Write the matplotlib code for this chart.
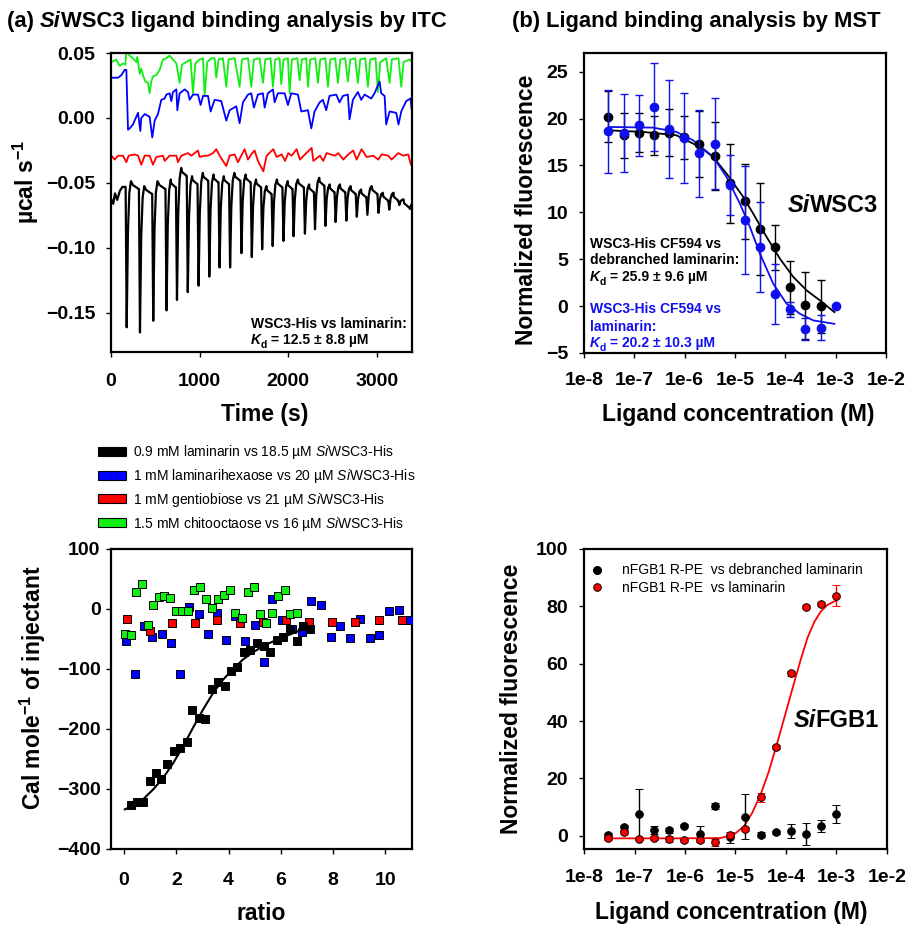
import matplotlib
matplotlib.use("Agg")
import matplotlib.pyplot as plt
from matplotlib.patches import Patch
from matplotlib.lines import Line2D
from matplotlib.ticker import NullLocator

plt.rcParams['font.family'] = ['Liberation Sans', 'DejaVu Sans']
plt.rcParams['mathtext.fontset'] = 'custom'
plt.rcParams['mathtext.rm'] = 'Liberation Sans'
plt.rcParams['mathtext.it'] = 'Liberation Sans:italic'
plt.rcParams['mathtext.bf'] = 'Liberation Sans:bold'

# ---------------- (a) ITC raw traces ----------------
itc_time_ticks = [0, 1000, 2000, 3000]
itc_time_labels = ['0', '1000', '2000', '3000']
itc_power_ticks = [0.05, 0.0, -0.05, -0.10, -0.15]
itc_power_labels = ['0.05', '0.00', '\u22120.05', '\u22120.10', '\u22120.15']

# black trace: laminarin (injection times, dip minima, plateau after each injection)
black_start_t = [0, 25, 45, 70, 100, 130, 150]
black_start_v = [-0.062, -0.066, -0.058, -0.063, -0.056, -0.053, -0.053]
black_inj_t = [165, 315, 465, 615, 733, 855, 977, 1098, 1214, 1333, 1461, 1578, 1695,
               1814, 1936, 2050, 2178, 2292, 2410, 2525, 2646, 2764, 2884, 3009, 3131,
               3244, 3365]
black_dip = [-0.161, -0.165, -0.156, -0.148, -0.140, -0.134, -0.129, -0.122, -0.115,
             -0.115, -0.104, -0.107, -0.101, -0.0985, -0.0945, -0.091, -0.089, -0.0855,
             -0.083, -0.080, -0.079, -0.076, -0.0745, -0.073, -0.0705, -0.067, -0.070]
black_top = [-0.0486, -0.0524, -0.0486, -0.0473, -0.0384, -0.0448, -0.0422, -0.0435,
             -0.0448, -0.0422, -0.0435, -0.0473, -0.0524, -0.0473, -0.0486, -0.0473,
             -0.0511, -0.046, -0.0511, -0.0511, -0.0524, -0.055, -0.0524, -0.0575,
             -0.0575, -0.0626, -0.065]

# blue trace: laminarihexaose (vertices)
blue_t = [5, 79, 117, 154, 173, 192, 211, 248, 286, 305, 331, 342, 380, 436, 466, 493,
          530, 568, 606, 625, 662, 681, 700, 738, 749, 775, 832, 869, 888, 926, 982,
          1012, 1039, 1095, 1125, 1170, 1245, 1302, 1340, 1415, 1452, 1490, 1547, 1584,
          1614, 1659, 1716, 1735, 1772, 1829, 1848, 1885, 1961, 1998, 2036, 2111, 2149,
          2224, 2262, 2299, 2356, 2393, 2431, 2468, 2544, 2581, 2619, 2675, 2694, 2732,
          2788, 2826, 2864, 2939, 2976, 3033, 3052, 3090, 3108, 3146, 3221, 3247, 3278,
          3334, 3383, 3398]
blue_v = [0.031, 0.031, 0.033, 0.037, 0.037, -0.009, -0.008, -0.005, 0.001, 0.004,
          -0.010, 0.000, 0.003, 0.001, -0.015, -0.002, 0.003, 0.014, 0.015, 0.018, 0.019,
          0.013, 0.020, 0.022, 0.006, 0.019, 0.022, 0.020, 0.014, 0.018, 0.018, 0.010,
          0.017, 0.017, 0.005, 0.014, 0.013, -0.002, 0.006, 0.009, -0.004, 0.012, 0.018,
          0.019, 0.008, 0.018, 0.019, 0.008, 0.019, 0.022, 0.012, 0.019, 0.019, 0.010,
          0.019, 0.018, 0.005, 0.006, -0.008, 0.005, 0.012, 0.014, 0.006, 0.017, 0.018,
          0.012, 0.017, 0.018, -0.001, 0.014, 0.020, 0.014, 0.018, 0.015, 0.019, 0.028,
          0.019, 0.017, -0.005, 0.005, 0.004, -0.005, 0.005, 0.013, 0.015, 0.005]

# red trace: gentiobiose
red_t = [4, 41, 79, 135, 173, 199, 267, 305, 342, 380, 436, 474, 512, 587, 606, 662,
         738, 756, 794, 869, 907, 982, 1001, 1057, 1095, 1151, 1189, 1227, 1302, 1340,
         1396, 1434, 1471, 1509, 1547, 1584, 1622, 1659, 1720, 1758, 1833, 1871, 1927,
         1965, 2002, 2040, 2096, 2134, 2190, 2266, 2285, 2360, 2397, 2435, 2529, 2567,
         2623, 2680, 2736, 2774, 2830, 2887, 2962, 3018, 3056, 3131, 3169, 3244, 3300,
         3357, 3387, 3400]
red_v = [-0.029, -0.032, -0.029, -0.029, -0.034, -0.029, -0.028, -0.029, -0.036, -0.029,
         -0.029, -0.036, -0.030, -0.029, -0.033, -0.029, -0.029, -0.034, -0.029, -0.027,
         -0.029, -0.025, -0.030, -0.029, -0.029, -0.027, -0.024, -0.029, -0.037, -0.029,
         -0.028, -0.034, -0.029, -0.024, -0.032, -0.028, -0.025, -0.033, -0.041, -0.029,
         -0.024, -0.030, -0.028, -0.033, -0.027, -0.029, -0.024, -0.032, -0.028, -0.023,
         -0.033, -0.029, -0.033, -0.027, -0.029, -0.027, -0.032, -0.028, -0.025, -0.032,
         -0.024, -0.030, -0.029, -0.032, -0.028, -0.029, -0.032, -0.027, -0.029, -0.028,
         -0.036, -0.036]

# green trace: chitooctaose
green_t = [5, 60, 98, 135, 162, 173, 211, 248, 286, 297, 324, 342, 361, 388, 418, 436,
           455, 474, 512, 549, 587, 625, 662, 700, 738, 775, 801, 850, 899, 926, 952,
           1001, 1039, 1057, 1087, 1133, 1170, 1189, 1215, 1264, 1302, 1328, 1396, 1452,
           1479, 1547, 1584, 1614, 1678, 1716, 1742, 1802, 1829, 1855, 1904, 1923, 1949,
           1998, 2017, 2043, 2104, 2130, 2156, 2205, 2224, 2250, 2307, 2337, 2363, 2420,
           2450, 2476, 2532, 2563, 2589, 2645, 2675, 2702, 2758, 2788, 2815, 2871, 2901,
           2928, 2988, 3014, 3041, 3108, 3146, 3172, 3247, 3278, 3304, 3372, 3398]
green_v = [0.043, 0.045, 0.040, 0.042, 0.041, 0.051, 0.048, 0.046, 0.043, 0.047, 0.034,
           0.038, 0.033, 0.028, 0.027, 0.019, 0.028, 0.032, 0.033, 0.037, 0.045, 0.046,
           0.048, 0.045, 0.042, 0.027, 0.041, 0.043, 0.045, 0.019, 0.042, 0.045, 0.046,
           0.017, 0.043, 0.046, 0.046, 0.031, 0.045, 0.046, 0.024, 0.045, 0.046, 0.024,
           0.045, 0.046, 0.024, 0.045, 0.046, 0.027, 0.045, 0.046, 0.024, 0.045, 0.046,
           0.026, 0.045, 0.046, 0.019, 0.045, 0.046, 0.029, 0.045, 0.046, 0.024, 0.045,
           0.046, 0.027, 0.045, 0.046, 0.024, 0.045, 0.046, 0.027, 0.045, 0.046, 0.028,
           0.045, 0.046, 0.027, 0.045, 0.046, 0.024, 0.045, 0.046, 0.020, 0.043, 0.046,
           0.027, 0.045, 0.046, 0.024, 0.043, 0.045, 0.043]

# ---------------- (a) ITC integrated heats ----------------
ratio_ticks = [0, 2, 4, 6, 8, 10]
heat_ticks = [100, 0, -100, -200, -300, -400]
heat_labels = ['100', '0', '\u2212100', '\u2212200', '\u2212300', '\u2212400']

lam_ratio = [0.28, 0.50, 0.73, 0.98, 1.21, 1.43, 1.66, 1.90, 2.16, 2.41, 2.62, 2.87, 3.11,
             3.36, 3.61, 3.85, 4.10, 4.34, 4.58, 4.84, 5.09, 5.35, 5.60, 5.85, 6.10, 6.37,
             6.61, 6.85, 7.11]
lam_heat = [-327, -322, -322, -287, -274, -284, -259, -236, -232, -222, -168, -182, -183,
            -134, -121, -128, -103, -96, -71, -68, -56, -62, -72, -51, -46, -34, -54, -28,
            -33]
lam_fit_ratio = [0.03, 0.34, 0.73, 1.11, 1.49, 1.88, 2.26, 2.64, 3.02, 3.41, 3.79, 4.17,
                 4.56, 4.94, 5.45, 6.09, 6.73, 7.11]
lam_fit_heat = [-334, -328, -317, -301, -282, -257, -229, -198, -168, -140, -118, -100,
                -84, -72, -59, -47, -36, -31]

hex_ratio = [0.06, 0.41, 0.75, 1.08, 1.45, 1.79, 2.13, 2.48, 2.86, 3.20, 3.55, 3.92, 4.26,
             4.63, 5.00, 5.32, 5.35, 5.68, 6.04, 6.45, 6.80, 7.17, 7.53, 7.91, 8.28, 8.65,
             9.02, 9.41, 9.78, 10.16, 10.54, 10.94]
hex_heat = [-54, -109, -29, -47, -42, -57, -109, 4, -9, -42, -6, -52, -11, -54, -27, -22,
            -89, 17, -19, -33, -39, 14, 7, -46, -29, -48, -17, -49, -43, -3, -1, -19]

gen_ratio = [0.13, 1.00, 1.85, 2.73, 3.57, 4.45, 5.31, 6.19, 7.08, 7.96, 8.86, 9.75, 10.64]
gen_heat = [-16, -36, -24, -24, -18, -23, -22, -19, -22, -22, -21, -18, -19]

chi_ratio = [0.05, 0.26, 0.47, 0.69, 0.91, 1.12, 1.34, 1.54, 1.77, 2.00, 2.21, 2.45, 2.67,
             2.90, 3.13, 3.36, 3.59, 3.82, 4.05, 4.26, 4.51, 4.74, 4.96, 5.19, 5.45, 5.68,
             5.91, 6.15, 6.37, 6.64]
chi_heat = [-41, -44, 28, 42, -26, 6, 20, 22, 18, -4, -4, -3, 31, 36, 16, 1, 16, 24, 32,
            -6, -15, 28, 36, -9, -23, -7, 21, 31, -8, -7]

itc_legend_labels = [
    '0.9 mM laminarin vs 18.5 \u00b5M $\\mathit{Si}$WSC3-His',
    '1 mM laminarihexaose vs 20 \u00b5M $\\mathit{Si}$WSC3-His',
    '1 mM gentiobiose vs 21 \u00b5M $\\mathit{Si}$WSC3-His',
    '1.5 mM chitooctaose vs 16 \u00b5M $\\mathit{Si}$WSC3-His',
]

# ---------------- (b) MST ----------------
conc_ticks = [1e-8, 1e-7, 1e-6, 1e-5, 1e-4, 1e-3, 1e-2]
conc_labels = ['1e-8', '1e-7', '1e-6', '1e-5', '1e-4', '1e-3', '1e-2']

conc = [3.05e-8, 6.10e-8, 1.22e-7, 2.44e-7, 4.88e-7, 9.77e-7, 1.95e-6, 3.91e-6, 7.81e-6,
        1.56e-5, 3.13e-5, 6.25e-5, 1.25e-4, 2.5e-4, 5.0e-4, 1.0e-3]

wsc3_deb = [20.2, 18.2, 18.5, 18.2, 18.5, 18.0, 17.3, 16.0, 13.1, 11.2, 8.2, 6.3, 2.0,
            0.07, -0.04]
wsc3_deb_err = [2.7, 2.4, 2.1, 2.1, 2.5, 2.3, 3.5, 3.6, 4.2, 4.0, 4.9, 2.4, 2.8, 3.55, 2.85]
wsc3_lam = [18.65, 18.5, 19.3, 21.2, 18.9, 17.9, 16.3, 17.3, 12.95, 9.2, 6.26, 1.3, -0.36,
            -2.42, -2.3, 0.04]
wsc3_lam_err = [4.4, 4.15, 3.25, 4.7, 5.2, 4.8, 4.65, 4.85, 3.2, 5.75, 4.8, 3.2, 0.8, 1.2,
                1.35, 0.0]
wsc3_deb_fit_c = [3.10e-8, 1.49e-7, 6.87e-7, 2.00e-6, 3.68e-6, 6.79e-6, 1.46e-5, 2.30e-5,
                  4.24e-5, 7.82e-5, 1.44e-4, 2.65e-4, 4.88e-4, 9.40e-4]
wsc3_deb_fit = [18.75, 18.58, 18.22, 16.98, 15.91, 14.13, 11.64, 9.86, 7.37, 5.05, 3.10,
                1.67, 0.60, -0.64]
wsc3_lam_fit_c = [3.10e-8, 2.36e-7, 6.87e-7, 1.47e-6, 3.68e-6, 6.79e-6, 1.25e-5, 1.98e-5,
                  3.13e-5, 5.75e-5, 1.06e-4, 1.95e-4, 3.60e-4, 9.40e-4]
wsc3_lam_fit = [19.11, 19.04, 18.58, 17.69, 15.91, 13.77, 10.93, 8.43, 5.59, 2.38, 0.25,
                -0.82, -1.53, -1.89]

fgb1_deb = [0.1, 2.9, 7.5, 2.1, 1.9, 3.5, 0.7, 10.5, -0.5, 6.7, 0.35, 1.2, 1.7, 0.7, 3.5, 7.5]
fgb1_deb_err = [0.8, 1.0, 8.7, 1.4, 0.8, 0.6, 2.8, 1.0, 1.9, 7.8, 0.8, 0.6, 2.5, 3.8, 2.1, 3.2]
fgb1_lam = [-0.8, 1.2, -1.0, -0.8, -1.0, -1.6, -1.4, -2.3, 0.35, 2.4, 13.4, 30.9, 56.6,
            79.9, 80.8, 83.7]
fgb1_lam_err = [0.6, 0.6, 0.5, 0.8, 1.0, 0.5, 0.6, 1.2, 1.0, 0.6, 1.6, 0.6, 0.8, 0.5, 0.6, 3.6]
fgb1_fit_c = [3.10e-8, 6.87e-7, 5.00e-6, 9.20e-6, 1.46e-5, 2.13e-5, 3.13e-5, 4.57e-5,
              6.70e-5, 9.82e-5, 1.44e-4, 1.95e-4, 2.65e-4, 3.60e-4, 4.88e-4, 6.62e-4, 1.02e-3]
fgb1_fit = [-0.9, -0.9, -0.8, 0.35, 3.25, 7.9, 14.3, 22.4, 32.3, 42.7, 53.2, 61.3, 68.9,
            74.4, 78.2, 80.5, 82.2]

BLUE = '#0000ff'
RED = '#ff0000'
GREEN = '#11ee11'
MSTBLUE = '#1010ee'

TICK = 14
LABEL = 16.5
TITLE = 15.8


def injection_trace(start_t, start_v, inj_t, dip, top, t_end):
    ts = list(start_t)
    vs = list(start_v)
    for i, t in enumerate(inj_t):
        nxt = inj_t[i + 1] if i + 1 < len(inj_t) else t_end
        d, p = dip[i], top[i]
        ts += [t, t + 12, t + 26, t + 42, t + 60, t + 0.55 * (nxt - t), nxt - 3]
        vs += [vs[-1], d, p + (d - p) * 0.35, p + (d - p) * 0.08, p, p - 0.003, p - 0.006]
    return ts, vs


def style_axes(ax):
    for s in ax.spines.values():
        s.set_linewidth(1.6)
    ax.tick_params(direction='out', length=3.5, width=1.0, labelsize=TICK,
                   top=False, right=False)


def rich(ax, x, y, parts, transform, color='k'):
    """parts: list of (text, size, weight, style, dy_points)"""
    s0, sz0, w0, st0, dy0 = parts[0]
    t = ax.text(x, y, s0, transform=transform, fontsize=sz0, fontweight=w0,
                fontstyle=st0, color=color, ha='left', va='baseline')
    prev_dy = dy0
    for s, sz, w, st, dy in parts[1:]:
        t = ax.annotate(s, xy=(1, 0), xycoords=t, xytext=(0, dy - prev_dy),
                        textcoords='offset points', fontsize=sz, fontweight=w,
                        fontstyle=st, color=color, ha='left', va='bottom',
                        annotation_clip=False)
        prev_dy = dy
    return t


fig = plt.figure(figsize=(9.07, 9.25), dpi=100)

# ---- top-left: raw ITC ----
ax1 = fig.add_axes([0.1224, 0.6195, 0.3319, 0.3232])
bt, bv = injection_trace(black_start_t, black_start_v, black_inj_t, black_dip, black_top, 3480)
ax1.plot(green_t, green_v, color=GREEN, lw=1.3)
ax1.plot(blue_t, blue_v, color=BLUE, lw=1.3)
ax1.plot(red_t, red_v, color=RED, lw=1.3)
ax1.plot(bt, bv, color='k', lw=1.6)
ax1.set_xlim(0, 3400)
ax1.set_ylim(-0.18, 0.05)
ax1.set_xticks(itc_time_ticks)
ax1.set_xticklabels(itc_time_labels, fontweight='bold')
ax1.set_yticks(itc_power_ticks)
ax1.set_yticklabels(itc_power_labels, fontweight='bold')
style_axes(ax1)
ax1.tick_params(axis='x', pad=12)
ax1.tick_params(axis='y', pad=8)
ax1.set_xlabel('Time (s)', fontsize=LABEL, fontweight='bold')
ax1.xaxis.set_label_coords(0.512, -0.172)
ax1.set_ylabel('\u00b5cal s$^{\\mathbf{\u22121}}$', fontsize=LABEL, fontweight='bold')
ax1.yaxis.set_label_coords(-0.232, 0.569)
rich(ax1, 0.464, 0.080, [('WSC3-His vs laminarin:', 10, 'bold', 'normal', 0)], ax1.transAxes)
rich(ax1, 0.464, 0.027, [('K', 10, 'bold', 'italic', 0), ('d', 7.5, 'bold', 'normal', -2),
                         (' = 12.5 \u00b1 8.8 \u00b5M', 10, 'bold', 'normal', 0)], ax1.transAxes)

# title (a)
rich(ax1, 0.0074, 0.971, [('(a) ', TITLE, 'bold', 'normal', 0), ('Si', TITLE, 'bold', 'italic', 0),
                          ('WSC3 ligand binding analysis by ITC', TITLE, 'bold', 'normal', 0)],
     fig.transFigure)

# ITC legend
handles = [Patch(facecolor=c, edgecolor='k', linewidth=0.8) for c in ['k', BLUE, RED, GREEN]]
fig.legend(handles, itc_legend_labels, loc='upper left', bbox_to_anchor=(0.108, 0.521),
           frameon=False, fontsize=10, handlelength=2.0, handleheight=0.62,
           handletextpad=0.55, labelspacing=0.42, borderpad=0, borderaxespad=0)

# ---- bottom-left: integrated heats ----
ax2 = fig.add_axes([0.1224, 0.0822, 0.3319, 0.3243])
sq = dict(marker='s', ls='none', ms=5.8, mec='k', mew=0.7)
ax2.plot(hex_ratio, hex_heat, color=BLUE, **sq, zorder=3)
ax2.plot(gen_ratio, gen_heat, color=RED, **sq, zorder=3)
ax2.plot(chi_ratio, chi_heat, color=GREEN, **sq, zorder=3)
ax2.plot(lam_fit_ratio, lam_fit_heat, color='k', lw=1.5, zorder=4)
ax2.plot(lam_ratio, lam_heat, color='k', **sq, zorder=5)
ax2.set_xlim(-0.5, 11.03)
ax2.set_ylim(-400, 100)
ax2.set_xticks(ratio_ticks)
ax2.set_xticklabels([str(v) for v in ratio_ticks], fontweight='bold')
ax2.set_yticks(heat_ticks)
ax2.set_yticklabels(heat_labels, fontweight='bold')
style_axes(ax2)
ax2.tick_params(axis='x', pad=13)
ax2.tick_params(axis='y', pad=4)
ax2.set_xlabel('ratio', fontsize=LABEL, fontweight='bold')
ax2.xaxis.set_label_coords(0.5, -0.178)
ax2.set_ylabel('Cal mole$^{\\mathbf{\u22121}}$ of injectant', fontsize=LABEL, fontweight='bold')
ax2.yaxis.set_label_coords(-0.209, 0.538)

# ---- top-right: MST SiWSC3 ----
ax3 = fig.add_axes([0.6439, 0.6184, 0.333, 0.3243])
ax3.set_xscale('log')
eb = dict(fmt='o', ms=6, capsize=2.8, elinewidth=1.0, capthick=1.0)
ax3.plot(wsc3_deb_fit_c, wsc3_deb_fit, color='k', lw=1.3, zorder=2)
ax3.plot(wsc3_lam_fit_c, wsc3_lam_fit, color=MSTBLUE, lw=1.3, zorder=2)
ax3.errorbar(conc[:15], wsc3_deb, yerr=wsc3_deb_err, color='k', zorder=3, **eb)
ax3.errorbar(conc[:15], wsc3_lam[:15], yerr=wsc3_lam_err[:15], color=MSTBLUE, zorder=4, **eb)
ax3.plot(conc[15:], wsc3_lam[15:], 'o', ms=6, color=MSTBLUE, zorder=4)
ax3.set_xlim(1e-8, 1e-2)
ax3.set_ylim(-5, 27)
ax3.set_xticks(conc_ticks)
ax3.set_xticklabels(conc_labels, fontweight='bold')
ax3.xaxis.set_minor_locator(NullLocator())
ax3.set_yticks([25, 20, 15, 10, 5, 0, -5])
ax3.set_yticklabels(['25', '20', '15', '10', '5', '0', '\u22125'], fontweight='bold')
style_axes(ax3)
ax3.tick_params(axis='x', pad=10)
ax3.tick_params(axis='y', pad=8)
ax3.set_xlabel('Ligand concentration (M)', fontsize=LABEL, fontweight='bold')
ax3.xaxis.set_label_coords(0.51, -0.168)
ax3.set_ylabel('Normalized fluorescence', fontsize=LABEL, fontweight='bold')
ax3.yaxis.set_label_coords(-0.152, 0.477)
rich(ax3, 0.675, 0.471, [('Si', 17, 'bold', 'italic', 0), ('WSC3', 17, 'bold', 'normal', 0)],
     ax3.transAxes)
for txt, yy, col in [('WSC3-His CF594 vs', 0.350, 'k'), ('debranched laminarin:', 0.297, 'k'),
                     ('WSC3-His CF594 vs', 0.133, MSTBLUE), ('laminarin:', 0.073, MSTBLUE)]:
    rich(ax3, 0.019, yy, [(txt, 10, 'bold', 'normal', 0)], ax3.transAxes, color=col)
rich(ax3, 0.019, 0.240, [('K', 10, 'bold', 'italic', 0), ('d', 7.5, 'bold', 'normal', -2),
                         (' = 25.9 \u00b1 9.6 \u00b5M', 10, 'bold', 'normal', 0)], ax3.transAxes)
rich(ax3, 0.019, 0.020, [('K', 10, 'bold', 'italic', 0), ('d', 7.5, 'bold', 'normal', -2),
                         (' = 20.2 \u00b1 10.3 \u00b5M', 10, 'bold', 'normal', 0)], ax3.transAxes,
     color=MSTBLUE)
rich(ax3, 0.564, 0.971, [('(b) ', TITLE, 'bold', 'normal', 0),
                         ('Ligand binding analysis by MST', TITLE, 'bold', 'normal', 0)],
     fig.transFigure)

# ---- bottom-right: MST SiFGB1 ----
ax4 = fig.add_axes([0.6439, 0.0822, 0.334, 0.3243])
ax4.set_xscale('log')
eb2 = dict(fmt='o', ms=5.5, capsize=2.8, elinewidth=1.0, capthick=1.0, mew=0.7)
ax4.plot(fgb1_fit_c, fgb1_fit, color=RED, lw=1.3, zorder=2)
ax4.errorbar(conc, fgb1_deb, yerr=fgb1_deb_err, color='k', mec='k', zorder=3, **eb2)
ax4.errorbar(conc, fgb1_lam, yerr=fgb1_lam_err, color=RED, mfc=RED, mec='k', ecolor=RED,
             zorder=4, **eb2)
ax4.set_xlim(1e-8, 1e-2)
ax4.set_ylim(-4.6, 100)
ax4.set_xticks(conc_ticks)
ax4.set_xticklabels(conc_labels, fontweight='bold')
ax4.xaxis.set_minor_locator(NullLocator())
ax4.set_yticks([100, 80, 60, 40, 20, 0])
ax4.set_yticklabels(['100', '80', '60', '40', '20', '0'], fontweight='bold')
style_axes(ax4)
ax4.tick_params(axis='x', pad=11)
ax4.tick_params(axis='y', pad=8)
ax4.set_xlabel('Ligand concentration (M)', fontsize=LABEL, fontweight='bold')
ax4.xaxis.set_label_coords(0.487, -0.172)
ax4.set_ylabel('Normalized fluorescence', fontsize=LABEL, fontweight='bold')
ax4.yaxis.set_label_coords(-0.201, 0.5)
rich(ax4, 0.691, 0.408, [('Si', 17, 'bold', 'italic', 0), ('FGB1', 17, 'bold', 'normal', 0)],
     ax4.transAxes)
leg_handles = [Line2D([], [], ls='none', marker='o', ms=5.5, mfc='k', mec='k'),
               Line2D([], [], ls='none', marker='o', ms=5.5, mfc=RED, mec='k', mew=0.7)]
ax4.legend(leg_handles, ['nFGB1 R-PE  vs debranched laminarin', 'nFGB1 R-PE  vs laminarin'],
           loc='upper left', bbox_to_anchor=(0.01, 0.952), frameon=False, fontsize=10,
           handlelength=1.4, handletextpad=1.1, labelspacing=0.25, borderpad=0,
           borderaxespad=0)

fig.savefig('out.png', dpi=100)
